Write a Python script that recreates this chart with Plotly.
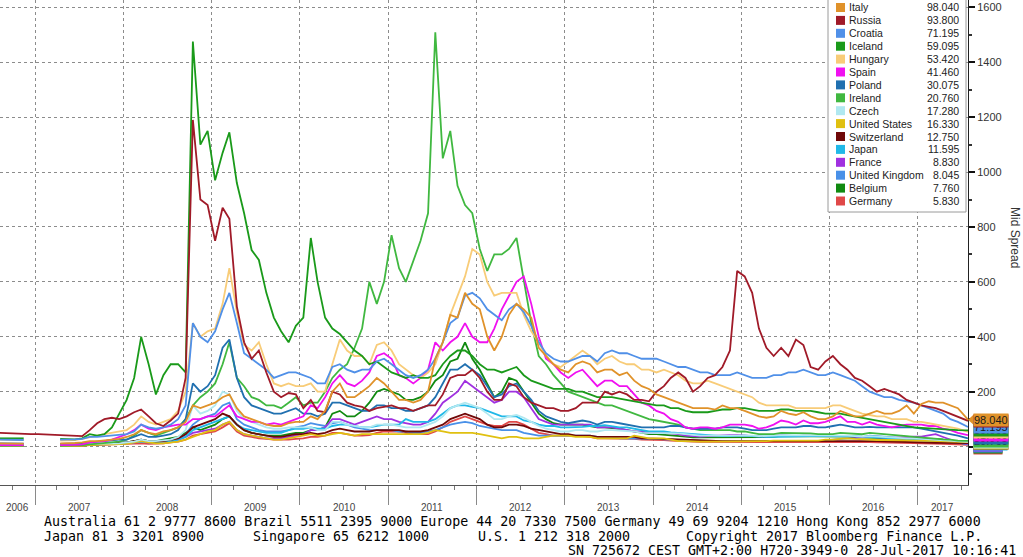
import pandas as pd
import plotly.graph_objects as go

N = None

# ---- observation dates: monthly (mid-month), first/last at the ends of the window
dates = (["2006-08-09"]
         + [d.strftime("%Y-%m-15") for d in pd.date_range("2006-09-01", "2017-06-01", freq="MS")]
         + ["2017-07-27"])

# ---- series (Aug-2006 .. Jul-2017, one value per month)
italy = [12, 12, 11, 11, N,
         N, N, N, 12, 12, 13, 15, 20, 20, 22, 25, 28,
         35, 45, 60, 50, 45, 55, 60, 70, 90, 150, 140, 150,
         160, 180, 190, 140, 110, 100, 90, 80, 75, 75, 85, 90,
         90, 110, 100, 130, 200, 230, 180, 180, 200, 220, 250, 230,
         200, 170, 170, 160, 170, 200, 320, 380, 480, 470, 560, 520,
         500, 400, 350, 400, 480, 520, 500, 470, 360, 330, 300, 280,
         270, 300, 310, 300, 270, 280, 280, 260, 270, 240, 220, 210,
         190, 180, 170, 160, 150, 140, 140, 140, 135, 150, 140, 140,
         130, 120, 110, 105, 110, 130, 120, 115, 125, 110, 100, 100,
         110, 130, 120, 110, 110, 120, 130, 120, 120, 130, 150, 120,
         155, 165, 160, 160, 150, 140, 98.04]
russia = [50, 48, 46, 45, 45,
          45, 44, 43, 42, 40, 38, 38, 60, 85, 100, 105, 100,
          110, 125, 135, 110, 85, 75, 95, 120, 250, 1190, 900, 880,
          750, 870, 830, 510, 380, 320, 350, 270, 200, 180, 195, 190,
          140, 170, 130, 125, 200, 190, 160, 150, 145, 130, 140, 145,
          150, 140, 140, 130, 140, 150, 150, 190, 250, 260, 260, 280,
          250, 200, 170, 170, 230, 220, 180, 160, 150, 140, 140, 130,
          130, 140, 160, 160, 160, 200, 190, 200, 190, 170, 170, 165,
          200, 220, 250, 270, 250, 200, 220, 250, 260, 290, 350, 640,
          620, 560, 430, 360, 330, 360, 330, 390, 370, 290, 280, 310,
          330, 300, 280, 250, 240, 220, 200, 210, 200, 190, 170, 160,
          150, 145, 140, 130, 120, 110, 93.8]
croatia = [25, 25, 24, 24, N,
           N, N, N, 25, 25, 26, 28, 35, 35, 38, 40, 42,
           45, 55, 80, 70, 65, 70, 80, 100, 150, 450, 400, 380,
           420, 500, 560, 450, 340, 320, 300, 280, 250, 260, 270, 270,
           260, 250, 230, 230, 290, 300, 280, 270, 280, 280, 310, 320,
           300, 280, 260, 250, 260, 280, 320, 380, 450, 470, 550, 560,
           540, 500, 480, 460, 500, 520, 490, 440, 380, 340, 320, 310,
           310, 320, 330, 330, 310, 340, 350, 340, 340, 330, 320, 320,
           320, 310, 300, 290, 290, 280, 270, 270, 260, 260, 260, 270,
           260, 250, 250, 250, 260, 260, 270, 270, 280, 270, 260, 260,
           270, 260, 250, 240, 220, 200, 190, 180, 180, 170, 165, 160,
           150, 140, 130, 120, 100, 90, 71.195]
iceland = [30, 30, 30, 30, N,
           N, N, N, 28, 26, 26, 30, 45, 40, 45, 70, 120,
           170, 250, 400, 300, 190, 260, 300, 300, 270, 1476, 1100, 1150,
           970, 1070, 1145, 960, 850, 716, 680, 560, 470, 420, 380, 440,
           470, 760, 600, 470, 430, 410, 380, 350, 330, 300, 310, 290,
           270, 260, 250, 260, 250, 250, 260, 300, 330, 350, 350, 330,
           300, 280, 280, 270, 280, 290, 260, 240, 230, 220, 210, 210,
           210, 200, 200, 190, 180, 180, 180, 175, 170, 165, 160, 155,
           150, 150, 140, 140, 130, 125, 125, 125, 130, 135, 135, 140,
           140, 135, 130, 130, 130, 135, 135, 130, 130, 130, 125, 120,
           120, 120, 115, 110, 105, 100, 95, 90, 85, 80, 75, 70,
           68, 66, 64, 62, 60, 60, 59.095]
hungary = [25, 25, 24, 24, N,
           N, N, N, 22, 22, 24, 28, 35, 40, 45, 50, 55,
           60, 80, 110, 90, 80, 90, 100, 130, 200, 450, 400, 420,
           430, 520, 650, 490, 370, 350, 380, 300, 230, 220, 230, 220,
           220, 230, 200, 200, 300, 390, 350, 330, 330, 300, 370, 380,
           350, 300, 280, 260, 250, 270, 300, 380, 480, 550, 620, 720,
           700, 600, 550, 560, 560, 560, 480, 420, 380, 330, 300, 290,
           310, 330, 350, 330, 300, 320, 330, 310, 300, 300, 280, 280,
           270, 280, 270, 260, 240, 230, 230, 240, 230, 220, 210, 200,
           190, 180, 160, 150, 150, 150, 150, 140, 140, 140, 140, 140,
           150, 150, 140, 130, 120, 115, 110, 110, 100, 100, 100, 90,
           90, 85, 80, 75, 70, 65, 53.42]
spain = [5, 5, 5, 5, N,
         N, N, N, 5, 5, 6, 8, 15, 18, 20, 25, 35,
         45, 60, 80, 65, 60, 70, 75, 80, 80, 100, 100, 110,
         110, 130, 150, 110, 100, 90, 90, 80, 85, 80, 90, 100,
         110, 150, 140, 180, 230, 260, 230, 220, 240, 270, 330, 340,
         320, 260, 250, 230, 250, 280, 380, 350, 380, 400, 450, 400,
         380, 380, 430, 500, 550, 600, 620, 520, 400, 320, 300, 270,
         250, 270, 280, 250, 220, 240, 240, 220, 220, 190, 160, 150,
         130, 120, 100, 90, 70, 65, 70, 70, 65, 70, 80, 80,
         80, 75, 65, 70, 80, 95, 90, 80, 95, 85, 85, 90,
         100, 110, 90, 90, 80, 90, 80, 75, 70, 75, 80, 80,
         80, 75, 75, 65, 60, 50, 41.46]
poland = [12, 12, 11, 11, N,
          N, N, N, 10, 10, 10, 12, 15, 18, 20, 22, 25,
          25, 35, 45, 35, 35, 40, 45, 60, 100, 230, 200, 220,
          260, 360, 390, 250, 180, 150, 140, 130, 120, 120, 130, 140,
          120, 120, 110, 120, 160, 160, 150, 140, 130, 130, 150, 150,
          140, 140, 130, 130, 140, 150, 180, 230, 280, 280, 300, 280,
          260, 220, 180, 190, 220, 230, 200, 170, 130, 110, 100, 90,
          85, 90, 95, 90, 80, 90, 90, 85, 80, 75, 70, 70,
          70, 70, 75, 75, 70, 65, 65, 65, 65, 70, 70, 70,
          65, 60, 60, 60, 65, 70, 70, 70, 75, 75, 70, 70,
          75, 80, 75, 70, 70, 72, 70, 70, 70, 68, 70, 70,
          65, 60, 55, 50, 45, 40, 30.075]
ireland = [3, 3, 3, 3, N,
           N, N, N, 3, 3, 3, 5, 8, 10, 12, 15, 18,
           25, 40, 60, 50, 40, 50, 60, 70, 100, 150, 180, 200,
           230, 300, 380, 250, 220, 180, 170, 150, 150, 140, 160, 180,
           150, 160, 160, 200, 250, 280, 300, 360, 430, 600, 520, 600,
           770, 650, 600, 680, 750, 850, 1509, 1050, 1150, 950, 880, 850,
           720, 640, 700, 700, 720, 760, 600, 450, 330, 300, 260, 230,
           200, 190, 180, 170, 160, 150, 150, 140, 130, 120, 110, 100,
           95, 90, 85, 80, 70, 65, 60, 60, 60, 60, 60, 55,
           55, 50, 45, 45, 45, 50, 50, 50, 50, 48, 45, 45,
           45, 50, 48, 45, 45, 50, 48, 45, 42, 40, 38, 35,
           32, 30, 28, 26, 25, 22, 20.76]
czech = [8, 8, 8, 8, N,
         N, N, N, 7, 7, 7, 8, 10, 10, 12, 12, 12,
         15, 18, 25, 20, 20, 22, 25, 35, 60, 150, 120, 130,
         150, 200, 190, 130, 100, 90, 80, 70, 65, 65, 70, 70,
         70, 70, 60, 60, 90, 90, 80, 75, 70, 70, 80, 80,
         80, 75, 70, 70, 70, 80, 90, 110, 140, 150, 160, 150,
         140, 120, 100, 100, 110, 115, 105, 90, 75, 65, 60, 55,
         55, 60, 60, 55, 55, 60, 60, 58, 55, 55, 50, 50,
         50, 50, 50, 48, 45, 42, 40, 40, 40, 42, 42, 42,
         42, 40, 38, 38, 40, 42, 42, 40, 40, 40, 40, 40,
         40, 42, 40, 38, 36, 38, 36, 35, 33, 32, 30, 30,
         28, 26, 25, 24, 22, 20, 17.28]
united_states = [2, 2, 2, 2, N,
                 N, N, N, 2, 2, 2, 3, 5, 6, 7, 8, 10,
                 10, 15, 20, 15, 12, 12, 15, 18, 25, 35, 45, 55,
                 60, 80, 90, 60, 45, 40, 35, 30, 25, 25, 30, 35,
                 40, 45, 40, 40, 45, 50, 45, 40, 45, 45, 45, 45,
                 45, 45, 45, 45, 45, 50, 60, 55, 50, 50, 50, 50,
                 45, 40, 35, 30, 35, 35, 30, 30, 30, 35, 40, 40,
                 40, 35, 35, 35, 30, 30, 30, 30, 30, 40, 35, 30,
                 30, 30, 25, 20, 20, 18, 18, 18, 18, 18, 20, 20,
                 20, 20, 20, 20, 22, 22, 22, 22, 22, 22, 22, 25,
                 25, 28, 30, 28, 26, 25, 24, 24, 24, 23, 22, 22,
                 22, 21, 20, 19, 18, 17, 16.33]
switzerland = [4, 4, 4, 4, N,
               N, N, N, 3, 3, 3, 4, 6, 8, 8, 10, 12,
               15, 20, 25, 20, 18, 20, 25, 30, 45, 70, 80, 90,
               100, 120, 110, 80, 60, 50, 45, 40, 35, 35, 40, 45,
               45, 50, 45, 50, 60, 65, 60, 55, 55, 55, 60, 60,
               60, 60, 55, 55, 55, 60, 70, 80, 100, 110, 120, 110,
               100, 80, 70, 70, 80, 80, 75, 65, 60, 55, 50, 45,
               45, 40, 40, 40, 35, 35, 35, 35, 35, 35, 30, 30,
               30, 28, 27, 26, 25, 24, 22, 20, 20, 20, 20, 20,
               20, 20, 20, 20, 20, 20, 22, 22, 22, 22, 22, 22,
               22, 22, 22, 21, 20, 20, 20, 19, 18, 17, 16, 15,
               15, 15, 14, 14, 13, 13, 12.75]
japan = [4, 4, 4, 4, N,
         N, N, N, 3, 3, 3, 4, 6, 8, 8, 10, 10,
         12, 15, 18, 15, 15, 18, 20, 25, 35, 60, 70, 80,
         90, 100, 110, 80, 65, 60, 55, 50, 50, 50, 60, 65,
         65, 70, 65, 65, 75, 80, 80, 75, 70, 70, 75, 80,
         80, 80, 100, 90, 90, 90, 100, 120, 140, 150, 150, 145,
         140, 130, 120, 110, 110, 110, 95, 90, 80, 75, 75, 70,
         70, 70, 72, 75, 75, 78, 75, 70, 70, 65, 60, 55,
         55, 55, 52, 50, 48, 45, 42, 40, 38, 38, 38, 40,
         40, 38, 36, 35, 35, 36, 36, 36, 38, 38, 38, 38,
         38, 40, 40, 38, 36, 36, 34, 32, 30, 28, 26, 25,
         22, 20, 18, 16, 15, 13, 11.595]
france = [3, 3, 3, 3, N,
          N, N, N, 3, 3, 3, 4, 5, 6, 7, 8, 10,
          12, 15, 18, 15, 15, 18, 20, 25, 35, 50, 55, 60,
          65, 80, 90, 60, 45, 40, 35, 30, 30, 30, 35, 40,
          45, 60, 60, 70, 100, 100, 90, 80, 90, 100, 110, 100,
          100, 90, 85, 80, 80, 90, 120, 160, 180, 200, 240, 220,
          200, 180, 160, 170, 200, 200, 180, 140, 100, 90, 80, 80,
          80, 80, 80, 80, 70, 70, 70, 65, 60, 55, 55, 50,
          50, 50, 48, 45, 40, 38, 36, 38, 40, 40, 42, 42,
          40, 38, 36, 36, 38, 42, 40, 38, 40, 40, 38, 38,
          40, 40, 38, 36, 34, 35, 33, 32, 32, 34, 36, 36,
          36, 40, 45, 35, 25, 15, 8.83]
united_kingdom = [3, 3, 3, 3, N,
                  N, N, N, 3, 3, 3, 4, 6, 8, 10, 10, 12,
                  15, 18, 20, 18, 18, 20, 25, 30, 45, 80, 100, 110,
                  120, 150, 160, 100, 80, 70, 60, 55, 55, 55, 60, 70,
                  75, 85, 80, 75, 85, 90, 80, 70, 65, 60, 60, 60,
                  60, 55, 55, 50, 50, 55, 60, 70, 80, 85, 90, 85,
                  75, 70, 65, 60, 60, 60, 50, 45, 40, 40, 40, 40,
                  40, 40, 40, 40, 35, 35, 35, 30, 30, 30, 28, 28,
                  28, 26, 25, 25, 24, 22, 20, 20, 20, 20, 20, 20,
                  20, 20, 20, 20, 20, 22, 22, 22, 22, 22, 22, 22,
                  25, 28, 30, 30, 35, 40, 38, 36, 35, 34, 32, 30,
                  28, 25, 22, 20, 18, 14, 8.045]
belgium = [3, 3, 3, 3, N,
           N, N, N, 3, 3, 3, 4, 6, 8, 10, 12, 15,
           15, 20, 25, 20, 20, 25, 30, 35, 50, 70, 60, 70,
           80, 100, 110, 80, 60, 50, 45, 40, 40, 40, 45, 50,
           50, 60, 60, 70, 120, 130, 110, 110, 130, 160, 200, 210,
           200, 190, 170, 170, 180, 200, 240, 260, 310, 320, 380, 320,
           280, 230, 180, 200, 250, 240, 200, 160, 120, 100, 85, 80,
           80, 80, 80, 75, 70, 70, 68, 65, 60, 55, 50, 45,
           45, 42, 40, 38, 36, 34, 34, 34, 34, 36, 36, 36,
           36, 35, 34, 34, 35, 38, 38, 36, 36, 36, 36, 36,
           36, 38, 36, 34, 34, 34, 32, 30, 30, 30, 30, 30,
           30, 30, 28, 25, 20, 15, 7.76]
germany = [3, 3, 3, 3, N,
           N, N, N, 3, 3, 3, 4, 5, 6, 7, 7, 8,
           8, 10, 12, 10, 10, 12, 15, 18, 25, 40, 45, 50,
           55, 70, 85, 55, 40, 35, 30, 28, 25, 25, 25, 28,
           30, 35, 35, 40, 50, 50, 45, 40, 40, 42, 50, 55,
           55, 55, 50, 45, 45, 45, 55, 70, 90, 100, 110, 100,
           90, 80, 75, 75, 90, 90, 80, 65, 50, 45, 40, 40,
           40, 38, 38, 35, 30, 30, 30, 28, 28, 28, 25, 25,
           25, 24, 22, 20, 18, 18, 17, 17, 17, 17, 18, 18,
           18, 17, 16, 16, 16, 17, 17, 16, 16, 16, 16, 16,
           16, 17, 18, 17, 16, 16, 15, 15, 14, 14, 14, 13,
           12, 12, 11, 10, 9, 8, 5.83]

names = ["Italy", "Russia", "Croatia", "Iceland", "Hungary", "Spain", "Poland", "Ireland",
         "Czech", "United States", "Switzerland", "Japan", "France", "United Kingdom",
         "Belgium", "Germany"]
values = [italy, russia, croatia, iceland, hungary, spain, poland, ireland,
          czech, united_states, switzerland, japan, france, united_kingdom, belgium, germany]
colors = ["#e0922a", "#a01a28", "#5090e8", "#1a9a1a", "#f8cc78", "#f010f0", "#2070b0", "#40b840",
          "#b0e8f0", "#e0c010", "#700808", "#20b8e8", "#a030e0", "#4890e8", "#108a10", "#e04848"]

years = list(range(2006, 2018))
x_start, x_end = "2006-08-09", "2017-07-27"
y_min, y_max = -140, 1627

# ---- pixel geometry helpers (plot area 968 x 485)
PW, PH = 968.0, 485.0
def px(xp):
    return xp / PW
def py(yp):
    return 1 - yp / PH

fig = go.Figure()
for name, vals, col in reversed(list(zip(names, values, colors))):
    fig.add_trace(go.Scatter(x=dates, y=vals, name=name, mode="lines",
                             line=dict(color=col, width=1.8), connectgaps=False,
                             showlegend=False))

year_starts = [f"{y}-01-01" for y in years[1:]]
quarters = ["2006-10-01"] + [f"{y}-{m:02d}-01" for y in years[1:] for m in (4, 7, 10) if f"{y}-{m:02d}-01" < x_end]

fig.update_layout(
    width=1023, height=557, autosize=False,
    margin=dict(l=0, r=55, t=0, b=72, pad=0),
    paper_bgcolor="white", plot_bgcolor="white",
    showlegend=False,
    xaxis=dict(type="date", range=[x_start, x_end],
               tickmode="array", tickvals=year_starts, ticktext=[""] * len(year_starts),
               ticks="outside", ticklen=19, tickcolor="#8a8a8a", tickwidth=1,
               showline=True, linecolor="#555", linewidth=1,
               showgrid=True, gridcolor="#8c8c8c", gridwidth=1, griddash="dot",
               zeroline=False, layer="below traces",
               minor=dict(tickmode="array", tickvals=quarters, ticks="outside",
                          ticklen=4, tickcolor="#777", showgrid=False)),
    yaxis=dict(side="right", range=[y_min, y_max],
               tickmode="array", tickvals=list(range(0, 1601, 200)),
               ticktext=[""] + [str(v) for v in range(200, 1601, 200)],
               ticks="outside", ticklen=6, tickwidth=2, tickcolor="#111",
               tickfont=dict(family="Liberation Sans", size=11, color="#333"),
               showline=True, linecolor="#222", linewidth=1,
               showgrid=True, gridcolor="#8c8c8c", gridwidth=1, griddash="dot",
               zeroline=False, layer="below traces",
               minor=dict(dtick=100, tick0=0, ticks="outside", ticklen=3,
                          tickcolor="#333", showgrid=False)),
)

ann = []
shapes = []

# year labels centred in the visible part of each year
t0, t1 = pd.Timestamp(x_start), pd.Timestamp(x_end)
for y in years:
    a = max(pd.Timestamp(f"{y}-01-01"), t0)
    b = min(pd.Timestamp(f"{y + 1}-01-01"), t1)
    mid = a + (b - a) / 2
    ann.append(dict(x=mid.strftime("%Y-%m-%d %H:%M"), xref="x", y=py(507), yref="paper",
                    text=str(y), showarrow=False, xanchor="center", yanchor="middle",
                    font=dict(family="Liberation Sans", size=10, color="#444")))

# axis title
ann.append(dict(x=px(1015), y=py(237), xref="paper", yref="paper", text="Mid Spread",
                textangle=90, showarrow=False, xanchor="center", yanchor="middle",
                font=dict(family="Liberation Sans", size=12, color="#333")))

# custom legend box
shapes.append(dict(type="rect", xref="paper", yref="paper",
                   x0=px(828), x1=px(966), y0=py(212), y1=py(-3),
                   line=dict(color="#9a9a9a", width=1), fillcolor="white", layer="above"))
for i, (name, vals, col) in enumerate(zip(names, values, colors)):
    yc = 7.5 + i * 12.9
    shapes.append(dict(type="rect", xref="paper", yref="paper",
                       x0=px(836), x1=px(845), y0=py(yc + 4.5), y1=py(yc - 4.5),
                       line=dict(width=0), fillcolor=col, layer="above"))
    ann.append(dict(x=px(847), y=py(yc), xref="paper", yref="paper", text=name,
                    showarrow=False, xanchor="left", yanchor="middle",
                    font=dict(family="Liberation Sans", size=10.5, color="#222")))
    ann.append(dict(x=px(961), y=py(yc), xref="paper", yref="paper", text=f"{vals[-1]:.3f}",
                    showarrow=False, xanchor="right", yanchor="middle",
                    font=dict(family="Liberation Sans", size=10.5, color="#222")))

# last-value labels on the right axis (stacked, highest value drawn on top)
order = sorted(range(len(names)), key=lambda k: -values[k][-1])
gap = 3.0
pos = {}
prev = None
for k in order:
    v = values[k][-1]
    p = v if prev is None else min(v, prev - gap)
    pos[k] = p
    prev = p
for k in reversed(order):
    ann.append(dict(x=px(973), y=pos[k], xref="paper", yref="y", text=f"{values[k][-1]:.3f}",
                    showarrow=False, xanchor="left", yanchor="middle",
                    bgcolor=colors[k], borderpad=0,
                    font=dict(family="Liberation Sans", size=11, color="#1a1a1a")))
top = order[0]
yv = pos[top]
shapes.append(dict(type="path", xref="paper", yref="y",
                   path=f"M {px(968)},{yv} L {px(974)},{yv + 20} L {px(974)},{yv - 20} Z",
                   fillcolor=colors[top], line=dict(width=0), layer="above"))

# footer
mono = dict(family="DejaVu Sans Mono", size=13.3, color="#000")
footer = [
    (43, 521, "Australia 61 2 9777 8600 Brazil 5511 2395 9000 Europe 44 20 7330 7500 Germany 49 69 9204 1210 Hong Kong 852 2977 6000"),
    (43, 536, "Japan 81 3 3201 8900"),
    (252, 536, "Singapore 65 6212 1000"),
    (477, 536, "U.S. 1 212 318 2000"),
    (685, 536, "Copyright 2017 Bloomberg Finance L.P."),
    (567, 550, "SN 725672 CEST GMT+2:00 H720-3949-0 28-Jul-2017 10:16:41"),
]
for xp, yp, txt in footer:
    ann.append(dict(x=px(xp), y=py(yp), xref="paper", yref="paper", text=txt,
                    showarrow=False, xanchor="left", yanchor="middle", font=mono, borderpad=0))

fig.update_layout(annotations=ann, shapes=shapes)
fig.write_html("out.html")
